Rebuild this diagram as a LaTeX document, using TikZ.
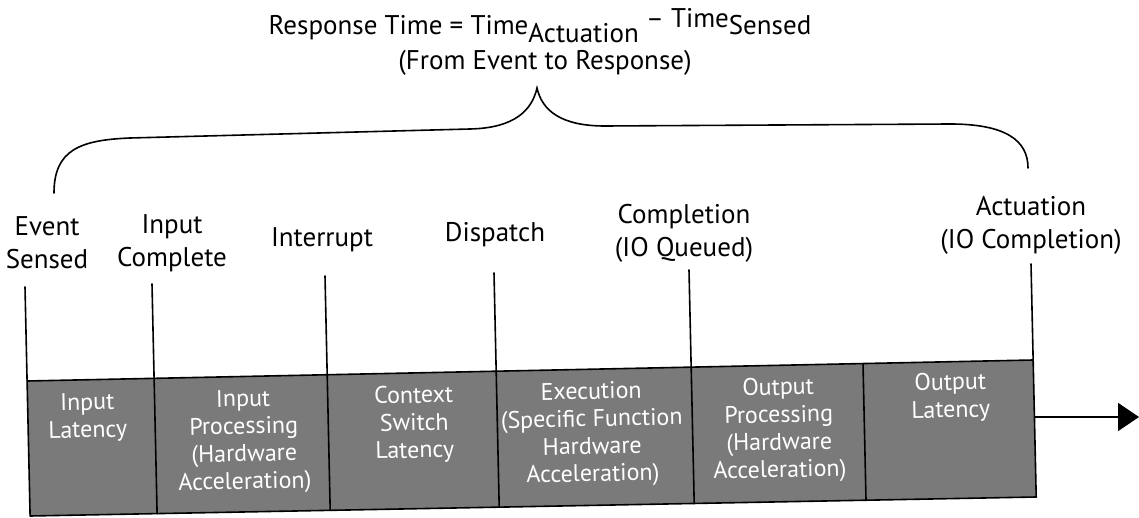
\documentclass[tikz,border=0pt]{standalone}
\usepackage{fontspec}
\setmainfont{PT Sans}
\usetikzlibrary{arrows.meta}
\definecolor{boxgray}{RGB}{122,122,122}
\begin{document}
\begin{tikzpicture}[x=1pt,y=-1pt,
  lbl/.style={align=center, font=\fontsize{27}{33}\selectfont, inner sep=0pt, anchor=base},
  boxtxt/.style={align=center, text=white, font=\fontsize{24}{27.5}\selectfont, inner sep=0pt, anchor=base, rotate=1.2},
  rule/.style={line width=1.6pt, line cap=round},
]
\useasboundingbox (0,0) rectangle (1139,518);

% ---- formula and brace ----
\node[lbl] (formula) at (540,35)
  {Response Time = Time\raisebox{-7.5pt}{Actuation} \raisebox{7pt}{– Time}Sensed};
\node[lbl] (span) at (545,70) {(From Event to Response)};

\coordinate (brL) at (54,193);
\coordinate (brTip) at (537,88);
\coordinate (brR) at (1028,168);
\draw[rule] (brL) .. controls (54,150) and (80,140) .. (130,138)
  -- (470,129) .. controls (515,128) and (532,110) .. (brTip)
  .. controls (542,110) and (560,126) .. (605,126)
  -- (950,124) .. controls (1005,124) and (1028,140) .. (brR);

% ---- event labels (anchored on the baseline of their last line) ----
\node[lbl] (evs)   at (47,269)   {Event\\Sensed};
\node[lbl] (inc)   at (172,267)  {Input\\Complete};
\node[lbl] (intr)  at (322,247)  {Interrupt};
\node[lbl] (disp)  at (495,242)  {Dispatch};
\node[lbl] (compl) at (684,257)  {Completion\\(IO Queued)};
\node[lbl] (act)   at (1031,249) {Actuation\\(IO Completion)};

% ---- timeline strip ----
\coordinate (t0) at (25,287);    \coordinate (b0) at (30.1,516);
\coordinate (t1) at (152,284);   \coordinate (b1) at (157.1,513.6);
\coordinate (t2) at (325,276);   \coordinate (b2) at (330.2,510.3);
\coordinate (t3) at (494,273);   \coordinate (b3) at (499.2,507.2);
\coordinate (t4) at (689,270);   \coordinate (b4) at (694.2,503.5);
\coordinate (t5) at (863,363.6); \coordinate (b5) at (866,500.2);
\coordinate (t6) at (1031,264);  \coordinate (b6) at (1036.2,497);
\coordinate (tl) at (27.1,381);  \coordinate (tr) at (1033.1,360);

\fill[boxgray] (tl) -- (tr) -- (b6) -- (b0) -- cycle;
\draw[rule] (tl) -- (tr);
\draw[rule] (b0) -- (b6);
\foreach \i in {0,...,6} { \draw[rule] (t\i) -- (b\i); }

% ---- phase texts (anchored on the baseline of their last line) ----
\node[boxtxt] (p1) at (88,437.5)  {Input\\Latency};
\node[boxtxt] (p2) at (245,489)   {Input\\Processing\\(Hardware\\Acceleration)};
\node[boxtxt] (p3) at (415,458)   {Context\\Switch\\Latency};
\node[boxtxt] (p4) at (593,481.5) {Execution\\(Specific Function\\Hardware\\Acceleration)};
\node[boxtxt] (p5) at (780,477.5) {Output\\Processing\\(Hardware\\Acceleration)};
\node[boxtxt] (p6) at (951,417.5) {Output\\Latency};

% ---- time arrow ----
\coordinate (arS) at (1034.4,417);
\coordinate (arE) at (1139,417);
\draw[rule, line cap=butt, -{Triangle[length=21pt,width=28pt]}] (arS) -- (arE);
\end{tikzpicture}
\end{document}
